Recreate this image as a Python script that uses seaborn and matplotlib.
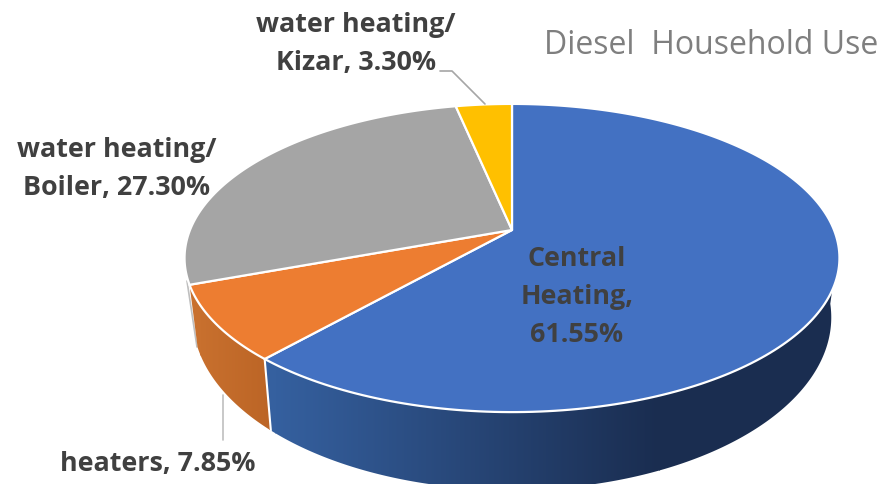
# === imports ===
import numpy as np
import seaborn as sns
import matplotlib.pyplot as plt
from matplotlib.colors import LinearSegmentedColormap
from matplotlib.patches import Polygon

# === data ===
categories = ["Central\nHeating,\n61.55%", "heaters, 7.85%", "water heating/\nBoiler, 27.30%", "water heating/\nKizar, 3.30%"]
shares = [61.55, 7.85, 27.30, 3.30]
slice_colors = ["#4371C2", "#ED7D31", "#A5A5A5", "#FFC000"]
title_text = "Diesel  Household Use"

# === perspective pie geometry (pixels) ===
cx, cy = 512, 230
rx, ry = 322, 149
persp = 0.1818


def rim(theta):
    # theta in degrees, clockwise from the top of the pie
    t = np.radians(theta)
    d = 1 + persp * np.cos(t)
    return rx * np.sin(t) / d, -ry * np.cos(t) / d


def top_edge(theta):
    dx, dy = rim(theta)
    return cx + dx, cy + dy


def bottom_edge(theta):
    dx, dy = rim(theta)
    return cx + 0.975 * dx, cy + 1.12 * dy + 56


# === figure ===
sns.set_theme(style="white")
plt.rcParams["font.family"] = ["Open Sans", "DejaVu Sans"]
fig = plt.figure(figsize=(8.83, 4.84), dpi=100)
ax = fig.add_axes([0, 0, 1, 1])
ax.axis("off")

edges = np.concatenate([[0], np.cumsum(shares)]) * 3.6

# --- side walls: a horizontal gradient clipped to the wall outline ---
walls = [
    (96, edges[1], "#35609F", "#1A2D50", 275, 660),
    (edges[1], edges[2], "#C8702E", "#BC6526", 200, 270),
]
for start, end, left, right, x0, x1 in walls:
    th = np.linspace(start, end, 200)
    xt, yt = top_edge(th)
    xb, yb = bottom_edge(th)
    outline = np.column_stack([np.r_[xt, xb[::-1]], np.r_[yt, yb[::-1]]])
    cmap = LinearSegmentedColormap.from_list("wall", [left, right])
    im = ax.imshow(np.linspace(0, 1, 256)[None, :], cmap=cmap, aspect="auto",
                   extent=[x0, x1, 490, 0], zorder=2, interpolation="bilinear")
    poly = Polygon(outline, transform=ax.transData, facecolor="none", edgecolor="none")
    ax.add_patch(poly)
    im.set_clip_path(poly)
    # flat colour outside the gradient range
    if outline[:, 0].max() > x1:
        flat = ax.fill([x1 - 1, 883, 883, x1 - 1], [0, 0, 490, 490], color=right, lw=0, zorder=2)[0]
        flat.set_clip_path(poly)
    if outline[:, 0].min() < x0:
        flat = ax.fill([0, x0 + 1, x0 + 1, 0], [0, 0, 490, 490], color=left, lw=0, zorder=2)[0]
        flat.set_clip_path(poly)

ax.set_xlim(0, 883)
ax.set_ylim(484, 0)

# white line between blue and orange walls
x_a, y_a = top_edge(edges[1])
x_b, y_b = bottom_edge(edges[1])
ax.plot([x_a, x_b], [y_a, y_b], color="white", lw=1.5, zorder=3)

# --- top faces ---
for i, color in enumerate(slice_colors):
    th = np.linspace(edges[i], edges[i + 1], 200)
    xs, ys = top_edge(th)
    ax.fill(np.r_[cx, xs], np.r_[cy, ys], facecolor=color, edgecolor="white", lw=1.6,
            joinstyle="round", zorder=4)

# --- leader lines ---
leader = "#A6A6A6"
ax.plot([440, 452, 485], [71, 71, 104], color=leader, lw=1.2, zorder=5)
ax.plot([223, 223], [395, 440], color="#BFBFBF", lw=1.2, zorder=1)
ax.plot([187, 197], [281, 347], color="#BFBFBF", lw=1.2, zorder=1)

# --- labels ---
label_style = dict(color="#404040", fontsize=19.4, fontweight="bold", ha="center", va="center",
                   linespacing=1.58)
ax.text(577, 297, categories[0], zorder=6, **label_style)
ax.text(158, 464, categories[1], zorder=6, **label_style)
ax.text(117, 169, categories[2], zorder=6, **label_style)
ax.text(356, 44, categories[3], zorder=6, **label_style)
ax.text(711, 45, title_text, color="#7F7F7F", fontsize=23, ha="center", va="center", zorder=6)

fig.savefig("out.png", dpi=100)
